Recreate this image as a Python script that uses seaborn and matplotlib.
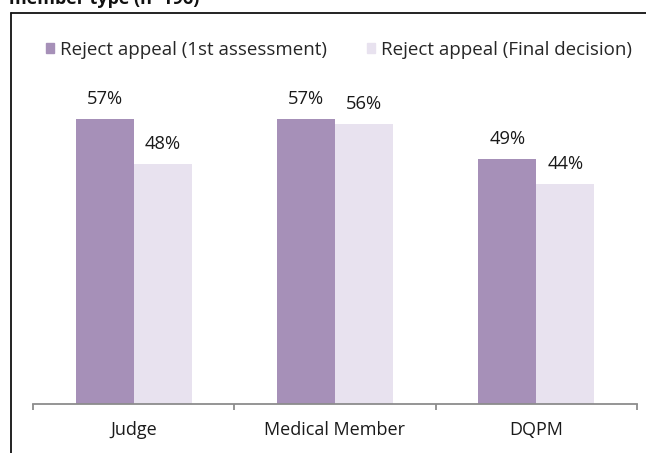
import matplotlib.pyplot as plt
import matplotlib.lines as mlines
import pandas as pd
import seaborn as sns

# chart data
categories = ["Judge", "Medical Member", "DQPM"]
series = ["Reject appeal (1st assessment)", "Reject appeal (Final decision)"]
first_assessment = [57, 57, 49]
final_decision = [48, 56, 44]

colors = ["#A690B8", "#E8E2EF"]

df = pd.DataFrame({
    "category": categories * 2,
    "series": [series[0]] * 3 + [series[1]] * 3,
    "value": first_assessment + final_decision,
})

sns.set_theme(style="white")
plt.rcParams["font.family"] = ["Open Sans", "DejaVu Sans"]

W, H = 646, 453
fig = plt.figure(figsize=(W / 100, H / 100), dpi=100)

# axes placed in pixel terms: x 33..637, baseline at y=404, top at y=79
ax = fig.add_axes([33 / W, (H - 404) / H, 604 / W, 325 / H])

sns.barplot(data=df, x="category", y="value", hue="series", order=categories,
            hue_order=series, palette=colors, width=0.577, saturation=1,
            linewidth=0, ax=ax, legend=False)

ax.set_ylim(0, 65)
ax.set_xlim(-0.5, 2.5)
ax.set_xlabel("")
ax.set_ylabel("")
ax.set_yticks([])

for c in ax.containers:
    ax.bar_label(c, fmt="%d%%", padding=8, fontsize=13.2, color="#1a1a1a")

for s in ["top", "right", "left"]:
    ax.spines[s].set_visible(False)
ax.spines["bottom"].set_color("#8c8c8c")
ax.spines["bottom"].set_linewidth(1.3)

ax.set_xticks([0, 1, 2])
ax.set_xticklabels(categories, fontsize=13, color="#1a1a1a")
ax.set_xticks([-0.5, 0.5, 1.5, 2.5], minor=True)
ax.tick_params(axis="x", which="major", length=0, pad=12)
ax.tick_params(axis="x", which="minor", length=4, width=1.3, color="#8c8c8c",
               bottom=True)

# legend with small square handles
handles = [plt.Rectangle((0, 0), 1, 1, color=col) for col in colors]
fig.legend(handles, series, loc="center left",
           bbox_to_anchor=(46 / W, 1 - 50 / H), ncol=2, frameon=False,
           fontsize=13.5, handlelength=0.42, handleheight=0.42,
           handletextpad=0.35, columnspacing=2.1, borderaxespad=0,
           borderpad=0)

# outer frame (top and left edges only visible in the crop)
fig.add_artist(mlines.Line2D([11 / W, 1.0], [1 - 13 / H, 1 - 13 / H],
                             color="#111111", lw=1.3))
fig.add_artist(mlines.Line2D([11 / W, 11 / W], [0, 1 - 13 / H],
                             color="#111111", lw=1.3))

# title, mostly cut off at the top edge
fig.text(9 / W, 1 - 4 / H, "member type (n=196)", fontsize=13,
         fontweight="bold", va="baseline", ha="left", color="#111111")

fig.savefig("out.png", dpi=100)
